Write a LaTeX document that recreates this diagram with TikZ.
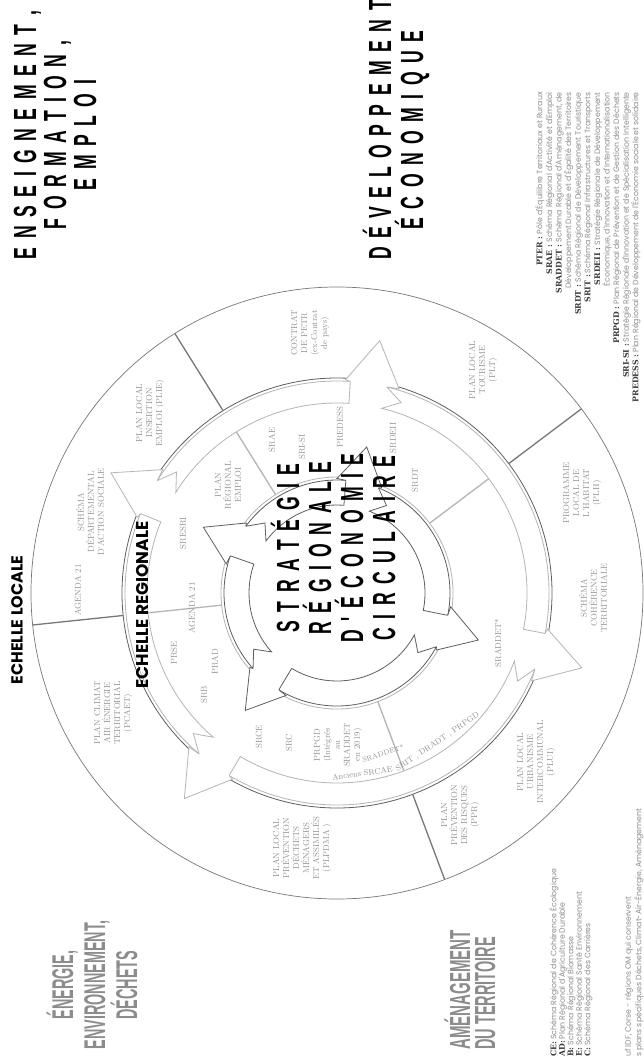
\documentclass[tikz,border=0pt]{standalone}
\usepackage{fontspec}
\usepackage{graphicx}
\newfontfamily\legfont{Poppins}
\newfontfamily\slabfont{DejaVu Serif}
\newfontfamily\headfont{Liberation Sans}
\definecolor{lgray}{HTML}{B5B5B5}
\definecolor{dgray}{HTML}{5E5E5E}
\definecolor{mgray}{HTML}{777777}
\definecolor{tgray}{HTML}{929292}
\definecolor{ttgray}{HTML}{8C8C8C}
\definecolor{leggray}{HTML}{8E8E8E}
\definecolor{bgray}{HTML}{3A3A3A}
\newcommand\ls{\hspace{15.5pt}}
\newcommand\sx[1]{\scalebox{0.55}[1]{#1}}
\newcommand\tx[1]{\scalebox{0.48}[1]{#1}}
\newcommand\kw[1]{{\slabfont\bfseries\color{bgray}#1}}
% arrow body: tail angle, end angle, r1, r2, notch, style
\newcommand\arrbody[6]{%
  \draw[#6] (#1:#4) arc[start angle=#1, end angle=#2, radius=#4pt]
    -- (#2:#3) arc[start angle=#2, end angle=#1, radius=#3pt]
    -- ({#1-#5}:{(#3+#4)/2}) -- cycle;}
% arrow head: head angle, r2, end offset, half width, tail offset, length, style
\newcommand\arrhead[7]{%
  \draw[#7] ({#1+#3}:#2) -- ({#1+#4}:{#2+1.5}) -- (#1:{#2+#6}) -- ({#1-#4}:{#2+1.5}) -- ({#1-#5}:#2);}
\begin{document}
\begin{tikzpicture}[x=1pt,y=-1pt,
  lab/.style={rotate=90, align=center, text=tgray, font=\fontsize{8.6}{10}\selectfont, inner sep=0pt},
  arclab/.style={text=tgray, font=\fontsize{8}{9}\selectfont, inner sep=0pt},
  big/.style={rotate=90, align=center, inner sep=0pt, font=\headfont\bfseries\fontsize{32}{32}\selectfont},
  gtitle/.style={rotate=90, align=center, inner sep=0pt, text=ttgray, font=\headfont\bfseries\fontsize{30}{32}\selectfont},
  echelle/.style={rotate=90, inner sep=0pt, font=\legfont\bfseries\fontsize{16}{18}\selectfont},
  lstyle/.style={lgray, line width=0.8pt, fill=white},
  dstyle/.style={dgray, line width=0.8pt, fill=white}]
\useasboundingbox (0,0) rectangle (643,1057);
\fill[white] (0,0) rectangle (643,1057);

\begin{scope}[shift={(337,593)}, y=1pt]
  \draw[lgray, line width=0.8pt] (0,0) circle[radius=116pt];
  \draw[dgray, line width=0.8pt] (0,0) circle[radius=215pt];
  \draw[mgray, line width=0.7pt] (0,0) circle[radius=306pt];
  \foreach \a in {37,122,186,290.6} {
    \draw[lgray, line width=1.3pt] (\a:116) -- (\a:190);
    \draw[mgray, line width=1.3pt] (\a:215) -- (\a:306);
  }
  % light arrows
  \arrbody{148}{86.4}{190}{212}{5}{lstyle}
  \arrbody{76.4}{-11}{190}{212}{5}{lstyle}
  \arrbody{-21}{-120.6}{190}{212}{5}{lstyle}
  \arrbody{-130.6}{-202}{190}{212}{5}{lstyle}
  \arrhead{80.4}{212}{6}{7.3}{4}{44}{lstyle}
  \arrhead{-17}{212}{6}{7.3}{4}{44}{lstyle}
  \arrhead{-126.6}{212}{6}{7.3}{4}{44}{lstyle}
  \arrhead{152}{212}{6}{7.3}{4}{44}{lstyle}
  % dark arrows
  \arrbody{143.8}{85.5}{88}{113}{8}{dstyle}
  \arrbody{68.5}{-11.4}{88}{113}{8}{dstyle}
  \arrbody{-28.4}{-121}{88}{113}{8}{dstyle}
  \arrbody{-138}{-199.2}{88}{113}{8}{dstyle}
  \arrhead{78.5}{113}{7}{11.5}{10}{36}{dstyle}
  \arrhead{-18.4}{113}{7}{11.5}{10}{36}{dstyle}
  \arrhead{-128}{113}{7}{11.5}{10}{36}{dstyle}
  \arrhead{153.8}{113}{7}{11.5}{10}{36}{dstyle}
  % texts along the band
  \node[arclab, rotate=8] (anciens) at (-82:182) {Anciens SRCAE};
  \node[arclab, rotate=34] (srit) at (-56:180) {SRIT , DRADT , PRPGD};
  \node[arclab, rotate=18, font=\fontsize{7}{8}\selectfont] (sraddetarc) at (-74:167) {SRADDET*};
\end{scope}

% outer ring labels (local)
\node[lab] (scot) at (593,598) {SCHÉMA\\COHÉRENCE\\TERRITORIALE};
\node[lab] (plh) at (582,493) {PROGRAMME\\LOCAL DE\\L'HABITAT\\(PLH)};
\node[lab] (plt) at (483,370) {PLAN LOCAL\\TOURISME\\(PLT)};
\node[lab] (petr) at (310,333) {CONTRAT\\DE PETR\\(ex-Contrat\\de pays)};
\node[lab] (plie) at (150,413) {PLAN LOCAL\\INSERTION\\EMPLOI (PLIE)};
\node[lab] (sdas) at (90,512) {SCHÉMA\\DÉPARTEMENTAL\\D'ACTION SOCIALE};
\node[lab] (ag21l) at (78,590) {AGENDA 21};
\node[lab] (pcaet) at (113,713) {PLAN CLIMAT\\AIR ÉNERGIE\\TERRITORIAL\\(PCAET)};
\node[lab] (plpdma) at (302,848) {PLAN LOCAL\\PRÉVENTION\\DÉCHETS\\MÉNAGERS\\ET ASSIMILÉS\\(PLPDMA )};
\node[lab] (ppr) at (460,815) {PLAN\\PRÉVENTION\\DES RISQUES\\(PPR)};
\node[lab] (plui) at (536,762) {PLAN LOCAL\\URBANISME\\INTERCOMMUNAL\\(PLUI)};

% regional labels
\node[lab] (srdt) at (415,480) {SRDT};
\node[lab] (srdeii) at (393,438) {SRDEII};
\node[lab] (predess) at (340,427) {PREDESS};
\node[lab] (srisi) at (302,447) {SRI-SI};
\node[lab] (srae) at (272,440) {SRAE};
\node[lab] (pre) at (228,485) {PLAN\\RÉGIONAL\\EMPLOI};
\node[lab] (sresri) at (183,533) {SRESRI};
\node[lab] (ag21r) at (192,608) {AGENDA 21};
\node[lab] (prse) at (174,653) {PRSE};
\node[lab] (prad) at (215,662) {PRAD};
\node[lab] (srb) at (204,695) {SRB};
\node[lab] (srce) at (259,737) {SRCE};
\node[lab] (src) at (289,743) {SRC};
\node[lab] (prpgd) at (338,745) {PRPGD\\(Intégrés\\au\\SRADDET\\en 2019)};
\node[lab] (sraddet) at (498,643) {SRADDET*};

% scale labels
\node[echelle] (elocale) at (17,620) {ECHELLE LOCALE};
\node[echelle, font=\legfont\bfseries\fontsize{17}{18}\selectfont] (eregion) at (143,605) {ECHELLE REGIONALE};

% central title
\node[big] (title) at (333,548) {\sx{S\ls T\ls R\ls A\ls T\ls É\ls G\ls I\ls E}\\\sx{R\ls É\ls G\ls I\ls O\ls N\ls A\ls L\ls E}\\\sx{D\ls '\ls É\ls C\ls O\ls N\ls O\ls M\ls I\ls E}\\\sx{C\ls I\ls R\ls C\ls U\ls L\ls A\ls I\ls R\ls E}};

% theme titles
\node[big] (dev) at (396,130) {\sx{D\ls É\ls V\ls E\ls L\ls O\ls P\ls P\ls E\ls M\ls E\ls N\ls T}\\\sx{É\ls C\ls O\ls N\ls O\ls M\ls I\ls Q\ls U\ls E}};
\node[big, font=\headfont\bfseries\fontsize{32}{30}\selectfont] (ens) at (55,135) {\sx{E\ls N\ls S\ls E\ls I\ls G\ls N\ls E\ls M\ls E\ls N\ls T\ls ,}\\\sx{F\ls O\ls R\ls M\ls A\ls T\ls I\ls O\ls N\ls ,}\\\sx{E\ls M\ls P\ls L\ls O\ls I}};
\node[gtitle] (ener) at (92,985) {\tx{ÉNERGIE,}\\\tx{ENVIRONNEMENT,}\\\tx{DÉCHETS}};
\node[gtitle, align=left, anchor=west, font=\headfont\bfseries\fontsize{29}{25}\selectfont] (amen) at (470,1050) {\scalebox{0.52}[1]{AMÉNAGEMENT}\\\scalebox{0.5}[1]{DU TERRITOIRE}};

% legends
\node[rotate=90, align=right, anchor=north east, inner sep=0pt, text=leggray,
      font=\legfont\fontsize{7.8}{9.6}\selectfont] (legr) at (535,92)
 {\kw{PTER :} Pôle d'Équilibre Territoriaux et Ruraux\\
  \kw{SRAE :} Schéma Régional d'Activité et d'Emploi\\
  \kw{SRADDET :} Schéma Régional d'Aménagement, de\\
  Développement Durable et d'Égalité des Territoires\\
  \kw{SRDT :} Schéma Régional de Développement Touristique\\
  \kw{SRIT :} Schéma Régional Infrastructures et Transports\\
  \kw{SRDEII :} Stratégie Régionale de Développement\\
  Économique, d'Innovation et d'Internationalisation\\
  \kw{PRPGD :} Plan Régional de Prévention et de Gestion des Déchets\\
  \kw{SRI-SI :} Stratégie Régionale d'Innovation et de Spécialisation Intelligente\\
  \kw{PREDESS :} Plan Régional de Développement de l'Économie sociale et solidaire};
\node[rotate=90, align=left, anchor=north west, inner sep=0pt, text=leggray,
      font=\legfont\fontsize{7.8}{8.5}\selectfont] (legb) at (549,1057)
 {\kw{CE:} Schéma Régional de Cohérence Écologique\\
  \kw{AD:} Plan Régional d'Agriculture Durable\\
  \kw{B:} Schéma Régional Biomasse\\
  \kw{E:} Schéma Régional Santé Environnement\\
  \kw{C:} Schéma Régional des Carrières\\[32pt]
  uf IDF, Corse - régions OM qui conservent\\
  s plans spécifiques Déchets, Climat-Air-Énergie, Aménagement};
\end{tikzpicture}
\end{document}
